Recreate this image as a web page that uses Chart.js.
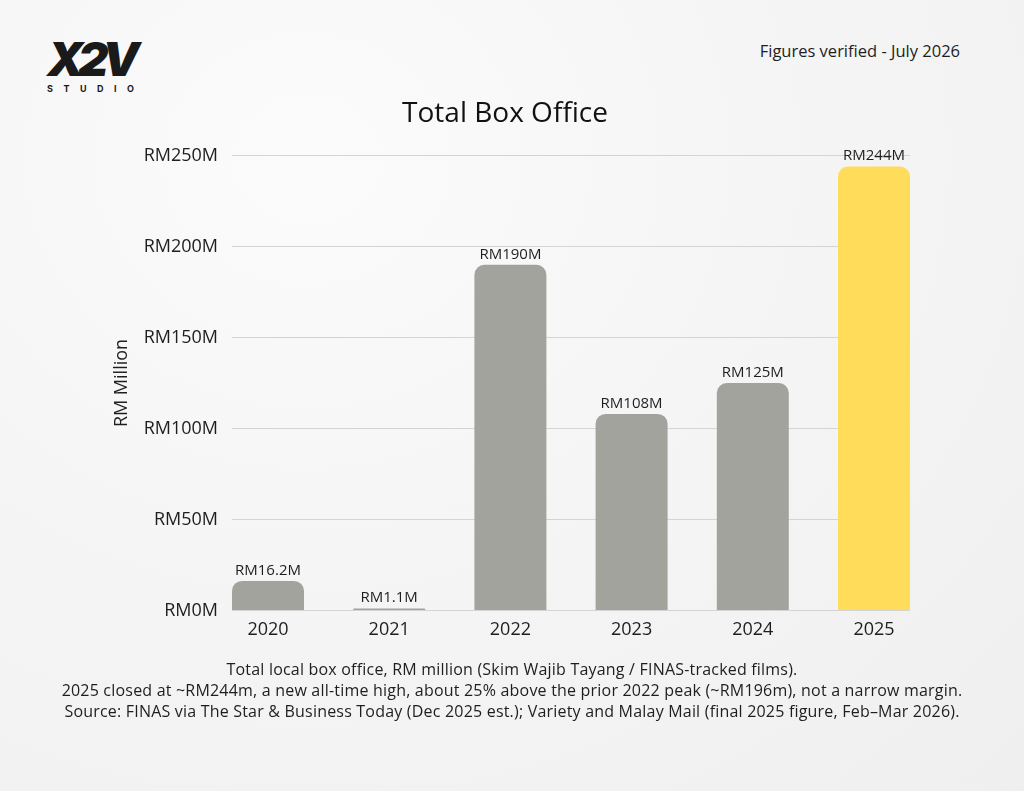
<!DOCTYPE html>
<html>
<head>
<meta charset="utf-8">
<script src="https://cdn.jsdelivr.net/npm/chart.js@4.4.1/dist/chart.umd.min.js"></script>
<style>
  html, body { margin: 0; padding: 0; }
  body {
    width: 1024px; height: 791px; position: relative; overflow: hidden;
    background: radial-gradient(ellipse at 30% 20%, #fbfbfb 0%, #f4f4f4 55%, #efefef 100%);
    font-family: "Open Sans", sans-serif; color: #1e1e1e;
  }
  #chart { position: absolute; left: 0; top: 0; }
  .logo { position: absolute; left: 47px; top: 33px; }
  .logo .mark { font-family: Inter, sans-serif; font-weight: 900; font-size: 47px; font-style: italic; letter-spacing: -6px; line-height: 52px; color: #1a1a1a; }
  .logo .sub { font-family: Inter, sans-serif; font-weight: 700; font-size: 9px; letter-spacing: 10.5px; color: #1a1a1a; margin-top: -2px; }
  .verified { position: absolute; right: 64px; top: 39px; font-size: 16.5px; }
  .footer { position: absolute; left: 0; width: 1024px; top: 659px; text-align: center; font-size: 16px; letter-spacing: 0.2px; line-height: 21px; }
</style>
</head>
<body>
<div class="logo"><div class="mark">X2V</div><div class="sub">STUDIO</div></div>
<div class="verified">Figures verified - July 2026</div>
<canvas id="chart" width="1024" height="791"></canvas>
<div class="footer">
  Total local box office, RM million (Skim Wajib Tayang / FINAS-tracked films).<br>
  2025 closed at ~RM244m, a new all-time high, about 25% above the prior 2022 peak (~RM196m), not a narrow margin.<br>
  Source: FINAS via The Star &amp; Business Today (Dec 2025 est.); Variety and Malay Mail (final 2025 figure, Feb–Mar 2026).
</div>
<script>
// data
const years = ['2020', '2021', '2022', '2023', '2024', '2025'];
const boxOffice = [16.2, 1.1, 190, 108, 125, 244];
const valueLabels = ['RM16.2M', 'RM1.1M', 'RM190M', 'RM108M', 'RM125M', 'RM244M'];
const yTicks = [0, 50, 100, 150, 200, 250];

const grey = '#a3a39e';
const yellow = '#ffdc5a';
const font = '"Open Sans", sans-serif';

// text above each bar
const barLabels = {
    id: 'barLabels',
    afterDatasetsDraw(chart) {
        const ctx = chart.ctx;
        const meta = chart.getDatasetMeta(0);
        ctx.save();
        ctx.font = '15px ' + font;
        ctx.fillStyle = '#1e1e1e';
        ctx.textAlign = 'center';
        ctx.textBaseline = 'bottom';
        meta.data.forEach((bar, i) => {
            ctx.fillText(valueLabels[i], bar.x, bar.y - 3);
        });
        ctx.restore();
    }
};

const ctx = document.getElementById('chart').getContext('2d');
const chart = new Chart(ctx, {
    type: 'bar',
    data: {
        datasets: [{
            data: years.map((y, i) => ({ x: i, y: boxOffice[i] })),
            backgroundColor: years.map(y => y === '2025' ? yellow : grey),
            borderRadius: { topLeft: 10, topRight: 10 },
            borderSkipped: 'start',
            barPercentage: 0.594,
            categoryPercentage: 1
        }]
    },
    options: {
        responsive: false,
        animation: false,
        layout: { padding: { left: 100, right: 114, top: 97, bottom: 149 } },
        plugins: {
            legend: { display: false },
            tooltip: { enabled: false },
            title: {
                display: true,
                text: 'Total Box Office',
                color: '#111',
                font: { family: font, size: 28, weight: 'normal', lineHeight: 1.2 },
                padding: { top: 0, bottom: 25 }
            }
        },
        scales: {
            x: {
                type: 'linear',
                offset: false,
                min: -0.297,
                max: 5.297,
                grid: { display: false, offset: false },
                border: { display: false },
                ticks: {
                    stepSize: 1,
                    includeBounds: false,
                    padding: 1,
                    color: '#1e1e1e',
                    font: { family: font, size: 18, lineHeight: 1.2 },
                    callback: v => Number.isInteger(v) ? years[v] : ''
                }
            },
            y: {
                min: 0,
                max: 250,
                afterFit: scale => { scale.width = 132; },
                afterBuildTicks: scale => { scale.ticks = yTicks.map(v => ({ value: v })); },
                grid: { color: '#d4d4d4', lineWidth: 1, drawTicks: false },
                border: { display: false },
                ticks: {
                    padding: 14,
                    color: '#1e1e1e',
                    font: { family: font, size: 18, lineHeight: 1.2 },
                    callback: v => 'RM' + v + 'M'
                },
                title: {
                    display: true,
                    text: 'RM Million',
                    color: '#1e1e1e',
                    font: { family: font, size: 18, lineHeight: 1.2 },
                    padding: { top: 11, bottom: 0 }
                }
            }
        }
    },
    plugins: [barLabels]
});
</script>
</body>
</html>
